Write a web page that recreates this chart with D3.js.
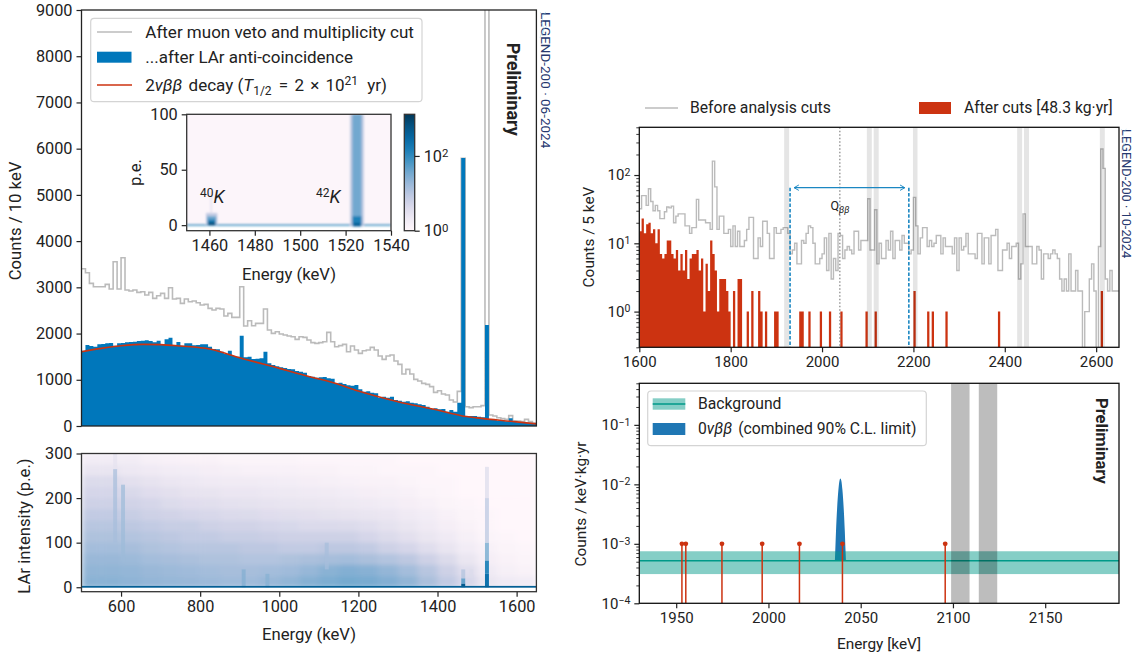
<!DOCTYPE html>
<html>
<head>
<meta charset="utf-8">
<script src="https://cdnjs.cloudflare.com/ajax/libs/d3/7.8.5/d3.min.js"></script>
<style>
  html, body { margin: 0; padding: 0; background: #fff; }
  svg text { font-family: Roboto, sans-serif; fill: #222; }
  .axis .domain { display: none; }
  .axis line { stroke: #222; }
</style>
</head>
<body>
<svg id="chart" width="1137" height="657"></svg>
<script>
// 10 keV bins from 500 keV
const spectrumStart = 500;
const muonVetoCounts = [3403,3317,3086,3014,3014,3014,3064,2963,3555,2963,3641,2942,2920,2942,2891,2906,2834,2891,2762,2819,
  2870,2762,2992,2747,2762,2653,2747,2689,2704,2668,2617,2632,2545,2509,2545,2531,2379,2437,2350,2350,
  3014,2163,2278,2170,2221,2221,2531,2077,2004,2040,1990,1968,1947,1932,1875,1932,1918,1860,1803,1788,
  1803,1824,2026,1824,1716,1738,1766,1608,1730,1644,1572,1629,1644,1702,1644,1514,1442,1514,1536,1406,
  1334,1125,1226,1125,1009,973,923,901,851,728,764,692,671,562,519,750,5790,418,397,418,
  418,440,15000,238,216,180,159,144,224,115,108,94,144,94,65];
const lArCutCounts = [1630,1752,1730,1716,1766,1774,1788,1795,1738,1788,1795,1810,1817,1824,1839,1846,1853,1839,1810,1846,
  1766,1875,1911,1752,1817,1738,1788,1788,1745,1752,1766,1766,1716,1665,1658,1608,1557,1630,1514,1500,
  1954,1485,1500,1449,1456,1464,1608,1355,1319,1291,1269,1255,1233,1226,1190,1175,1154,1082,1067,1045,
  1053,1060,1031,1024,923,937,908,880,872,887,793,743,750,721,707,613,634,613,634,562,
  548,526,534,505,490,469,454,418,368,382,360,368,310,346,310,505,5800,216,216,216,
  202,187,2185,151,130,115,108,101,166,87,79,79,72,72,58];
const twoNuEnergy = [500,550,600,656,700,750,824,900,1000,1077,1137,1200,1300,1400,1460,1500,1600,1650];
const twoNuCounts = [1608,1680,1735,1766,1760,1730,1665,1478,1247,1067,937,757,526,346,223,175,90,45];

// LAr p.e. map, columns every 50 keV from 500, rows every 25 p.e. from the top (275) down to 0
const mapEnergies = d3.range(500, 1650, 50);
const mapPeRows = [275,250,225,200,175,150,125,100,75,50,25,0];
const mapCounts = [
  [1.8,1.8,1.8,1.5,1.4,1.3,1.3,1.2,1.2,1.2,1.2,1.1,1.1,1.1,1.1,1.1,1,1,1,1,1,1,1],
  [2.6,2.6,2.2,2,1.8,1.7,1.6,1.5,1.4,1.4,1.4,1.3,1.3,1.2,1.2,1.1,1.1,1.1,1,1,1,1,1],
  [4,4,3.2,2.8,2.4,2.2,2,1.9,1.9,1.8,1.7,1.6,1.5,1.4,1.3,1.3,1.2,1.1,1.1,1,1,1,1],
  [5,5,4.4,3.6,3.2,2.8,2.7,2.4,2.4,2.2,2.1,2,1.9,1.7,1.6,1.5,1.4,1.2,1.1,1,1,1,1],
  [6,6,5.5,5,4,3.6,3.4,3.1,3,2.8,2.6,2.5,2.3,2.1,2,1.8,1.6,1.4,1.2,1.1,1,1,1],
  [8,8,7,6,5.5,5,4.5,4.2,4,3.6,3.4,3.2,3,2.8,2.6,2.4,2,1.7,1.4,1.2,1.1,1,1],
  [10,10,9,8,7,7,6,5.5,5.5,5,4.6,4.2,4.2,4,3.5,3,2.5,2,1.6,1.3,1.1,1,1],
  [12,12,11,10,9,8,8,7,7,6.5,6,6,6,6,5,4,3.2,2.5,2,1.5,1.2,1.1,1],
  [15,15,14,12,11,10,10,10,9,9,8,8,9,9,8,6,5,3.5,2.6,1.8,1.4,1.2,1.1],
  [18,18,17,15,14,13,12,12,11,11,12,13,14,15,13,11,9,6,4,2.5,1.6,1.3,1.2],
  [21,21,20,18,17,16,15,14,14,15,16,19,24,27,25,20,15,10,6,3.5,2,1.5,1.3],
  [24,24,22,20,19,18,17,16,16,18,21,26,30,34,32,27,21,13,8,4.5,2.5,2,1.8]
];
// gamma lines in the map: [from keV, to keV, from p.e., to p.e., counts]
const mapLines = [
  [580,590,100,265,14],[580,590,265,300,3],[600,610,60,230,17],[905,915,0,40,28],[965,975,0,30,26],
  [1115,1125,40,100,14],[1460,1470,0,8,500],[1460,1470,8,20,90],[1460,1470,20,40,12],[1480,1490,20,40,4],
  [1520,1530,0,30,220],[1520,1530,30,60,110],[1520,1530,60,100,45],[1520,1530,100,200,10],[1520,1530,200,270,4],
  [500,1650,-1,3,420]
];
// inset, same layout
const insetCells = [
  [1450,1540,-0.7,0.7,70],[1522,1528,-1,100,9],[1523,1527,-1,100,36],[1523,1527,-1,8,140],[1523.5,1526.5,-1,2,420],
  [1458.5,1463.5,0,11,8],[1459,1463,0,8,40],[1459.5,1462.5,0,5,160],[1459.5,1462.5,0,2.5,700],[1460.4,1461.2,11,30,3]
];
const colorbarTicks = [1, 100];

// 5 keV bins from 1600 keV
const roiStart = 1600;
const beforeCuts = [32,50,50,36,63,41,30,36,30,23,23,29,34,33,35,20,25,27,27,27,18,18,14,17,17,44,22,22,22,20,20,16,
  160,67,16,25,25,14,14,16,9,18,9,15,9,9,11,16,24,24,6,6,12,9,21,21,14,6,6,17,14,14,16,17,17,14,
  7,8,10,5,5,11,10,14,18,17,10,5,5,6,7,12,4,14,3,6,4,14,13,6,8,9,8,7,15,15,8,11,11,11,
  45,8,8,31,5,10,6,6,11,8,15,6,11,11,8,13,10,10,7,8,47,18,7,12,17,17,9,11,9,10,13,13,7,12,9,9,
  9,7,12,4,12,8,9,14,7,7,7,6,14,14,5,12,12,5,13,13,16,4,4,8,8,10,6,9,9,10,3,5,27,9,9,9,
  5,5,9,8,3,7,7,6,7,8,7,6,3,2,3,2,7,2,2,4,2,2,0,1,1,3,5,2,0,9,240,125,3,2,4,2,2,2];
const afterCuts = [15,23,14,19,20,14,16,10,16,7,6,7,11,11,7,6,8,4,7,4,8,3,6,7,7,8,4,6,1,5,2,11,7,4,1,3,3,3,2,1,
  0,2,0,3,3,0,0,1,0,2,0,0,2,1,0,1,0,0,0,1,1,0,0,0,0,0,0,0,0,0,1,1,0,0,1,0,0,0,0,1,
  0,0,0,1,0,0,0,0,1,0,0,0,0,0,0,0,0,0,0,1,0,0,0,1,0,0,0,0,0,0,0,0,0,0,0,0,0,0,0,0,
  2,0,0,0,0,0,1,0,1,0,0,0,0,0,1,0,0,0,0,0,0,0,0,0,0,0,0,0,0,0,0,0,0,0,0,0,0,1,0,0,
  0,0,0,0,0,0,0,0,0,0,0,0,0,0,0,0,0,0,0,0,0,0,0,0,0,0,0,0,0,0,0,0,0,0,0,0,0,0,0,0,
  0,0,2,0,0,0,0,0,0,0];
const excludedLines = [[1917,1928],[2098,2109],[2113,2124],[2199,2209],[2427,2438],[2442,2453],[2608,2619]];
const analysisWindow = [1930, 2190];
const qbb = 2039;

// 0nu fit panel
const bkgBand = [3.1e-4, 7.5e-4];
const bkgFit = 5.2e-4;
const signalEnergy = [2036,2036.2,2036.6,2037.2,2037.9,2038.5,2039,2039.5,2040.1,2040.8,2041.4,2041.8,2042];
const signalRate = [5.2e-4,7.5e-4,1.6e-3,3.9e-3,8e-3,1.15e-2,1.25e-2,1.15e-2,8e-3,3.9e-3,1.6e-3,7.5e-4,5.2e-4];
const eventEnergies = [1953.1,1955.2,1974.8,1996.6,2016.8,2040.1,2095.8];
const eventRate = 1e-3;
const fitBlinded = [[2099,2109],[2114,2124]];

const BLUE = "#0077bb", RED = "#cc3311", GREY = "#bbbbbb", TEAL = "#009988";

const svg = d3.select("#chart");
const defs = svg.append("defs");

defs.append("filter").attr("id", "soft").append("feGaussianBlur").attr("stdDeviation", "3 2");
defs.append("filter").attr("id", "softInset").append("feGaussianBlur").attr("stdDeviation", "1.2 0.9");

const mapColor = (c) => d3.interpolatePuBu(Math.log(Math.max(c, 1)) / Math.log(1300));

function clipFor(id, box) {
  defs.append("clipPath").attr("id", id).append("rect")
    .attr("x", box.left).attr("y", box.top)
    .attr("width", box.right - box.left).attr("height", box.bottom - box.top);
}

function spine(box, color = "#222") {
  svg.append("rect")
    .attr("x", box.left).attr("y", box.top)
    .attr("width", box.right - box.left).attr("height", box.bottom - box.top)
    .attr("fill", "none").attr("stroke", color).attr("stroke-width", 1.3);
}

function axis(gen, x, y, size, minor) {
  let g = svg.append("g").attr("class", "axis")
    .attr("transform", `translate(${x},${y})`)
    .call(gen)
    .attr("font-size", size)
    .attr("font-family", "Roboto, sans-serif");
  g.selectAll("line").attr("stroke-width", minor ? 0.9 : 1.2);
  return g;
}

// turn log axis labels into 10 + superscript
function powerLabels(g, sup = 0.7) {
  g.selectAll(".tick text").each(function (d) {
    let e = Math.round(Math.log10(d));
    let t = d3.select(this).text("10");
    t.append("tspan").attr("dy", "-0.42em").attr("font-size", `${sup * 100}%`).text(String(e).replace("-", "\u2212"));
  });
}

function label(text, x, y, size, opts = {}) {
  let t = svg.append("text")
    .attr("transform", `translate(${x},${y})` + (opts.rotate ? ` rotate(${opts.rotate})` : ""))
    .attr("font-size", size)
    .attr("text-anchor", opts.anchor || "start")
    .text(text);
  if (opts.bold) t.attr("font-weight", 700);
  if (opts.fill) t.style("fill", opts.fill);
  return t;
}

function logoMark(x, y, s) {
  svg.append("path")
    .attr("transform", `translate(${x},${y}) scale(${s})`)
    .attr("d", "M0,0 C4,5 8,6 12,2 M12,0 C6,4 2,12 6,20 M0,20 C6,24 10,34 4,48 M14,28 C6,34 2,42 0,52")
    .attr("fill", "none").attr("stroke", "#8ec7e4").attr("stroke-width", 0.8);
}

// ---- top left: full spectrum
const specBox = { left: 81.5, right: 536.4, top: 10, bottom: 426 };
clipFor("specClip", specBox);
const specX = d3.scaleLinear().domain([500, 1650]).range([specBox.left, specBox.right]);
const specY = d3.scaleLinear().domain([0, 9000]).range([specBox.bottom, specBox.top]);
const specBinsEdge = (arr) => arr.map((c, i) => [spectrumStart + i * 10, c]).concat([[spectrumStart + arr.length * 10, arr[arr.length - 1]]]);

const specG = svg.append("g").attr("clip-path", "url(#specClip)");
specG.append("path")
  .attr("d", d3.line().curve(d3.curveStepAfter).x((d) => specX(d[0])).y((d) => specY(d[1]))(specBinsEdge(muonVetoCounts)))
  .attr("fill", "none").attr("stroke", GREY).attr("stroke-width", 1.6);
specG.append("path")
  .attr("d", d3.area().curve(d3.curveStepAfter).x((d) => specX(d[0])).y0(specY(0)).y1((d) => specY(d[1]))(specBinsEdge(lArCutCounts)))
  .attr("fill", BLUE);
specG.append("path")
  .attr("d", d3.line().curve(d3.curveMonotoneX).x((d) => specX(d)).y((d, i) => specY(twoNuCounts[i]))(twoNuEnergy))
  .attr("fill", "none").attr("stroke", RED).attr("stroke-width", 1.6);
axis(d3.axisLeft(specY).tickValues(d3.range(0, 9001, 1000)).tickFormat(d3.format("d")).tickSize(5).tickPadding(4), specBox.left, 0, 16.3);
spine(specBox);

label("Counts / 10 keV", 21, 221, 16.7, { rotate: -90, anchor: "middle" });
label("Preliminary", 506.7, 42.7, 18, { rotate: 90, bold: true });
label("LEGEND-200 \u00b7 06-2024", 541, 12, 13.5, { rotate: 90, fill: "#26386f" });
logoMark(540, 12, 0.5);

// legend
svg.append("rect").attr("x", 90.7).attr("y", 18.3).attr("width", 331.3).attr("height", 83.4).attr("rx", 3.5)
  .attr("fill", "#fff").attr("fill-opacity", 0.8).attr("stroke", "#d4d4d4").attr("stroke-width", 1.2);
svg.append("line").attr("x1", 97).attr("x2", 132).attr("y1", 32).attr("y2", 32).attr("stroke", GREY).attr("stroke-width", 1.5);
svg.append("rect").attr("x", 97).attr("y", 51.7).attr("width", 34.5).attr("height", 11).attr("fill", BLUE);
svg.append("line").attr("x1", 97).attr("x2", 132).attr("y1", 85).attr("y2", 85).attr("stroke", RED).attr("stroke-width", 1.5);
label("After muon veto and multiplicity cut", 145.3, 38, 17);
label("...after LAr anti-coincidence", 145.3, 63, 17);
const twoNuLabel = label("", 145.3, 91, 17);
twoNuLabel.append("tspan").text("2");
twoNuLabel.append("tspan").attr("font-style", "italic").text("\u03bd\u03b2\u03b2");
twoNuLabel.append("tspan").attr("dx", 2).text(" decay (");
twoNuLabel.append("tspan").attr("font-style", "italic").text("T");
twoNuLabel.append("tspan").attr("dy", 3.5).attr("font-size", 12).text("1/2");
twoNuLabel.append("tspan").attr("dy", -3.5).attr("dx", 3).text(" = ");
twoNuLabel.append("tspan").attr("dx", 2).text("2");
twoNuLabel.append("tspan").attr("dx", 2).text(" \u00d7 ");
twoNuLabel.append("tspan").attr("dx", 2).text("10");
twoNuLabel.append("tspan").attr("dy", -6.5).attr("font-size", 12).text("21");
twoNuLabel.append("tspan").attr("dy", 6.5).attr("dx", 5).text(" yr)");

// ---- inset
const insetBox = { left: 186.7, right: 391, top: 114.3, bottom: 230.7 };
clipFor("insetClip", insetBox);
const insetX = d3.scaleLinear().domain([1450, 1540]).range([insetBox.left, insetBox.right]);
const insetY = d3.scaleLinear().domain([-5, 100]).range([insetBox.bottom, insetBox.top]);
svg.append("rect").attr("x", insetBox.left).attr("y", insetBox.top)
  .attr("width", insetBox.right - insetBox.left).attr("height", insetBox.bottom - insetBox.top)
  .attr("fill", "#fff");
const insetG = svg.append("g").attr("clip-path", "url(#insetClip)");
insetG.append("rect").attr("x", insetX(1450)).attr("y", insetY(100))
  .attr("width", insetX(1540) - insetX(1450)).attr("height", insetY(0) - insetY(100))
  .attr("fill", mapColor(1.15));
insetG.append("g").attr("filter", "url(#softInset)")
  .selectAll("rect").data(insetCells).enter().append("rect")
  .attr("x", (d) => insetX(d[0])).attr("width", (d) => insetX(d[1]) - insetX(d[0]))
  .attr("y", (d) => insetY(d[3])).attr("height", (d) => insetY(d[2]) - insetY(d[3]))
  .attr("fill", (d) => mapColor(d[4]));
axis(d3.axisLeft(insetY).tickValues([0, 50, 100]).tickSize(5).tickPadding(4), insetBox.left, 0, 16.3);
axis(d3.axisBottom(insetX).tickValues([1460, 1480, 1500, 1520, 1540]).tickFormat(d3.format("d")).tickSize(5).tickPadding(4), 0, insetBox.bottom, 16.3);
spine(insetBox, "#333");
label("p.e.", 141, 172.5, 16.7, { rotate: -90, anchor: "middle" });
label("Energy (keV)", 289, 280, 16.7, { anchor: "middle" });

function isotope(mass, x, y) {
  let t = label("", x, y, 16);
  t.append("tspan").attr("dy", -6).attr("font-size", 12).text(mass);
  t.append("tspan").attr("dy", 6).attr("font-style", "italic").attr("font-size", 18).text("K");
}
isotope("40", 200, 203);
isotope("42", 316, 203);

// colorbar
const cbBox = { left: 404.3, right: 414.7, top: 114.3, bottom: 230.7 };
const cbScale = d3.scaleLog().domain([1, 1300]).range([cbBox.bottom, cbBox.top]);
const cbGrad = defs.append("linearGradient").attr("id", "cbGrad").attr("x1", 0).attr("x2", 0).attr("y1", 1).attr("y2", 0);
d3.range(0, 1.01, 0.1).forEach((t) => {
  cbGrad.append("stop").attr("offset", t).attr("stop-color", d3.interpolatePuBu(t));
});
svg.append("rect").attr("x", cbBox.left).attr("y", cbBox.top)
  .attr("width", cbBox.right - cbBox.left).attr("height", cbBox.bottom - cbBox.top)
  .attr("fill", "url(#cbGrad)");
spine(cbBox, "#333");
powerLabels(axis(d3.axisRight(cbScale).tickValues(colorbarTicks).tickSize(5).tickPadding(4), cbBox.right, 0, 16.3));

// ---- bottom left: LAr map
const mapBox = { left: 81.5, right: 536.4, top: 453.5, bottom: 591.7 };
clipFor("mapClip", mapBox);
const mapX = d3.scaleLinear().domain([500, 1650]).range([mapBox.left, mapBox.right]);
const mapY = d3.scaleLinear().domain([-10, 300]).range([mapBox.bottom, mapBox.top]);
const mapCells = [];
mapCounts.forEach((row, r) => row.forEach((c, j) => mapCells.push({ e: mapEnergies[j], pe: mapPeRows[r], c })));
const mapG = svg.append("g").attr("clip-path", "url(#mapClip)");
const mapInner = mapG.append("g").attr("filter", "url(#soft)");
mapInner.selectAll("rect").data(mapCells).enter().append("rect")
  .attr("x", (d) => mapX(d.e)).attr("width", mapX(550) - mapX(500) + 0.5)
  .attr("y", (d) => mapY(d.pe + 25)).attr("height", mapY(0) - mapY(25) + 0.5)
  .attr("fill", (d) => mapColor(d.c));
// keep the blur from leaking under the pedestal
mapG.append("rect").attr("x", mapBox.left).attr("y", mapY(0)).attr("width", mapBox.right - mapBox.left)
  .attr("height", mapBox.bottom - mapY(0)).attr("fill", "#fff");
mapG.selectAll("rect.line").data(mapLines).enter().append("rect").classed("line", true)
  .attr("x", (d) => mapX(d[0])).attr("width", (d) => mapX(d[1]) - mapX(d[0]))
  .attr("y", (d) => mapY(d[3])).attr("height", (d) => mapY(d[2]) - mapY(d[3]))
  .attr("fill", (d) => mapColor(d[4]))
  .attr("fill-opacity", (d) => (d[4] > 100 ? 1 : 0.7));
axis(d3.axisLeft(mapY).tickValues([0, 100, 200, 300]).tickSize(5).tickPadding(4), mapBox.left, 0, 16.3);
axis(d3.axisBottom(mapX).tickValues(d3.range(600, 1601, 200)).tickFormat(d3.format("d")).tickSize(5).tickPadding(4), 0, mapBox.bottom, 16.3);
spine(mapBox, "#333");
label("LAr intensity (p.e.)", 30, 526, 16.7, { rotate: -90, anchor: "middle" });
label("Energy (keV)", 309, 640, 16.7, { anchor: "middle" });

// ---- top right: ROI spectrum
const roiBox = { left: 639.3, right: 1119, top: 127.3, bottom: 347.3 };
clipFor("roiClip", roiBox);
const roiX = d3.scaleLinear().domain([1600, 2650]).range([roiBox.left, roiBox.right]);
const roiY = d3.scaleLog().domain([0.3, 500]).range([roiBox.bottom, roiBox.top]);
const roiEdge = beforeCuts.map((c, i) => [roiStart + i * 5, c]).concat([[roiStart + beforeCuts.length * 5, beforeCuts[beforeCuts.length - 1]]]);
const roiG = svg.append("g").attr("clip-path", "url(#roiClip)");
roiG.append("path")
  .attr("d", d3.line().curve(d3.curveStepAfter).x((d) => roiX(d[0])).y((d) => roiY(Math.max(d[1], 0.1)))(roiEdge))
  .attr("fill", "none").attr("stroke", GREY).attr("stroke-width", 1.4);
// one path for all bars so neighbouring bins have no seam
const afterPath = d3.path();
afterCuts.forEach((c, i) => {
  if (c > 0) afterPath.rect(roiX(roiStart + i * 5), roiY(c), roiX(1605) - roiX(1600), roiBox.bottom - roiY(c));
});
roiG.append("path").attr("d", afterPath.toString()).attr("fill", RED);
roiG.selectAll("rect.excl").data(excludedLines).enter().append("rect").classed("excl", true)
  .attr("x", (d) => roiX(d[0])).attr("width", (d) => roiX(d[1]) - roiX(d[0]))
  .attr("y", roiBox.top).attr("height", roiBox.bottom - roiBox.top)
  .attr("fill", "#000").attr("fill-opacity", 0.1);
// Qbb marker
roiG.append("line").attr("x1", roiX(qbb)).attr("x2", roiX(qbb)).attr("y1", roiBox.top).attr("y2", roiBox.bottom)
  .attr("stroke", "#777").attr("stroke-width", 1.1).attr("stroke-dasharray", "1.5 2");
// analysis window
const windowY = 187.7;
defs.append("marker").attr("id", "openArrow").attr("viewBox", "-8 -5 10 10").attr("refX", 0).attr("refY", 0)
  .attr("markerWidth", 8).attr("markerHeight", 8).attr("markerUnits", "userSpaceOnUse").attr("orient", "auto-start-reverse")
  .append("path").attr("d", "M-6,-3.4 L0,0 L-6,3.4").attr("fill", "none").attr("stroke", "#1b87c2").attr("stroke-width", 1.2);
analysisWindow.forEach((e) => {
  svg.append("line").attr("x1", roiX(e)).attr("x2", roiX(e)).attr("y1", windowY).attr("y2", roiBox.bottom)
    .attr("stroke", "#1b87c2").attr("stroke-width", 1.6).attr("stroke-dasharray", "3.5 1.8");
});
svg.append("line").attr("x1", roiX(analysisWindow[0]) + 4).attr("x2", roiX(analysisWindow[1]) - 4)
  .attr("y1", windowY).attr("y2", windowY)
  .attr("stroke", "#1b87c2").attr("stroke-width", 1.3)
  .attr("marker-start", "url(#openArrow)").attr("marker-end", "url(#openArrow)");
const qLabel = label("Q", roiX(qbb), 210, 12.5, { anchor: "middle" });
qLabel.append("tspan").attr("dy", 2.5).attr("font-size", 9).attr("font-style", "italic").text("\u03b2\u03b2");

const roiMinor = [];
[0.1, 1, 10, 100].forEach((p) => d3.range(2, 10).forEach((k) => {
  if (k * p >= 0.3 && k * p <= 500) roiMinor.push(k * p);
}));
axis(d3.axisLeft(roiY).tickValues(roiMinor).tickFormat("").tickSize(3), roiBox.left, 0, 15, true);
powerLabels(axis(d3.axisLeft(roiY).tickValues([1, 10, 100]).tickSize(5).tickPadding(4), roiBox.left, 0, 15));
axis(d3.axisBottom(roiX).tickValues(d3.range(1600, 2601, 200)).tickFormat(d3.format("d")).tickSize(5).tickPadding(4), 0, roiBox.bottom, 15);
spine(roiBox, "#111");
label("Counts / 5 keV", 594, 237, 15.4, { rotate: -90, anchor: "middle" });
label("LEGEND-200 \u00b7 10-2024", 1122, 129, 12.8, { rotate: 90, fill: "#26386f" });
logoMark(1121, 129, 0.45);

svg.append("line").attr("x1", 645).attr("x2", 678).attr("y1", 108).attr("y2", 108).attr("stroke", GREY).attr("stroke-width", 1.5);
label("Before analysis cuts", 690, 113, 15.7);
svg.append("rect").attr("x", 919).attr("y", 102).attr("width", 32).attr("height", 12).attr("fill", RED);
label("After cuts [48.3 kg\u00b7yr]", 964, 113, 15.7);

// ---- bottom right: 0nu fit
const fitBox = { left: 639.3, right: 1119, top: 383.3, bottom: 603.3 };
clipFor("fitClip", fitBox);
const fitX = d3.scaleLinear().domain([1930, 2190]).range([fitBox.left, fitBox.right]);
const fitY = d3.scaleLog().domain([1e-4, 0.5]).range([fitBox.bottom, fitBox.top]);
const fitG = svg.append("g").attr("clip-path", "url(#fitClip)");
fitG.append("path")
  .attr("d", d3.area().x((d) => fitX(d)).y0(fitY(bkgFit)).y1((d, i) => fitY(signalRate[i])).curve(d3.curveMonotoneX)(signalEnergy))
  .attr("fill", "#1f77b4");
fitG.append("rect").attr("x", fitBox.left).attr("width", fitBox.right - fitBox.left)
  .attr("y", fitY(bkgBand[1])).attr("height", fitY(bkgBand[0]) - fitY(bkgBand[1]))
  .attr("fill", TEAL).attr("fill-opacity", 0.48);
fitG.append("line").attr("x1", fitBox.left).attr("x2", fitBox.right).attr("y1", fitY(bkgFit)).attr("y2", fitY(bkgFit))
  .attr("stroke", TEAL).attr("stroke-width", 1.4);
fitG.selectAll("rect.blind").data(fitBlinded).enter().append("rect").classed("blind", true)
  .attr("x", (d) => fitX(d[0])).attr("width", (d) => fitX(d[1]) - fitX(d[0]))
  .attr("y", fitBox.top).attr("height", fitBox.bottom - fitBox.top)
  .attr("fill", "#000").attr("fill-opacity", 0.26);
fitG.selectAll("line.stem").data(eventEnergies).enter().append("line").classed("stem", true)
  .attr("x1", (d) => fitX(d)).attr("x2", (d) => fitX(d))
  .attr("y1", fitY(eventRate)).attr("y2", fitBox.bottom)
  .attr("stroke", RED).attr("stroke-width", 1.5);
fitG.selectAll("circle.event").data(eventEnergies).enter().append("circle").classed("event", true)
  .attr("cx", (d) => fitX(d)).attr("cy", fitY(eventRate)).attr("r", 2.4).attr("fill", RED);

const fitMinor = [];
[1e-4, 1e-3, 1e-2, 1e-1].forEach((p) => d3.range(2, 10).forEach((k) => {
  if (k * p <= 0.5) fitMinor.push(k * p);
}));
axis(d3.axisLeft(fitY).tickValues(fitMinor).tickFormat("").tickSize(3), fitBox.left, 0, 15, true);
powerLabels(axis(d3.axisLeft(fitY).tickValues([1e-4, 1e-3, 1e-2, 1e-1]).tickSize(5).tickPadding(4), fitBox.left, 0, 15));
axis(d3.axisBottom(fitX).tickValues([1950, 2000, 2050, 2100, 2150]).tickFormat(d3.format("d")).tickSize(5).tickPadding(4), 0, fitBox.bottom, 15);
spine(fitBox, "#111");
label("Counts / keV\u00b7kg\u00b7yr", 586, 504, 15.4, { rotate: -90, anchor: "middle" });
label("Energy [keV]", 879, 649, 15.4, { anchor: "middle" });
label("Preliminary", 1095.7, 398, 16.6, { rotate: 90, bold: true });

svg.append("rect").attr("x", 647.7).attr("y", 391).attr("width", 278.6).attr("height", 54.7).attr("rx", 3.5)
  .attr("fill", "#fff").attr("fill-opacity", 0.8).attr("stroke", "#d4d4d4").attr("stroke-width", 1.2);
svg.append("rect").attr("x", 652.7).attr("y", 398.3).attr("width", 32.6).attr("height", 11.4).attr("fill", TEAL).attr("fill-opacity", 0.48);
svg.append("line").attr("x1", 652.7).attr("x2", 685.3).attr("y1", 404).attr("y2", 404).attr("stroke", TEAL).attr("stroke-width", 1.4);
svg.append("rect").attr("x", 652.7).attr("y", 423).attr("width", 32.6).attr("height", 12).attr("fill", "#1f77b4");
label("Background", 698, 409, 15.7);
const sigLabel = label("", 698, 434, 15.7);
sigLabel.append("tspan").text("0");
sigLabel.append("tspan").attr("font-style", "italic").text("\u03bd\u03b2\u03b2");
sigLabel.append("tspan").attr("dx", 2).text(" (combined 90% C.L. limit)");
</script>
</body>
</html>
